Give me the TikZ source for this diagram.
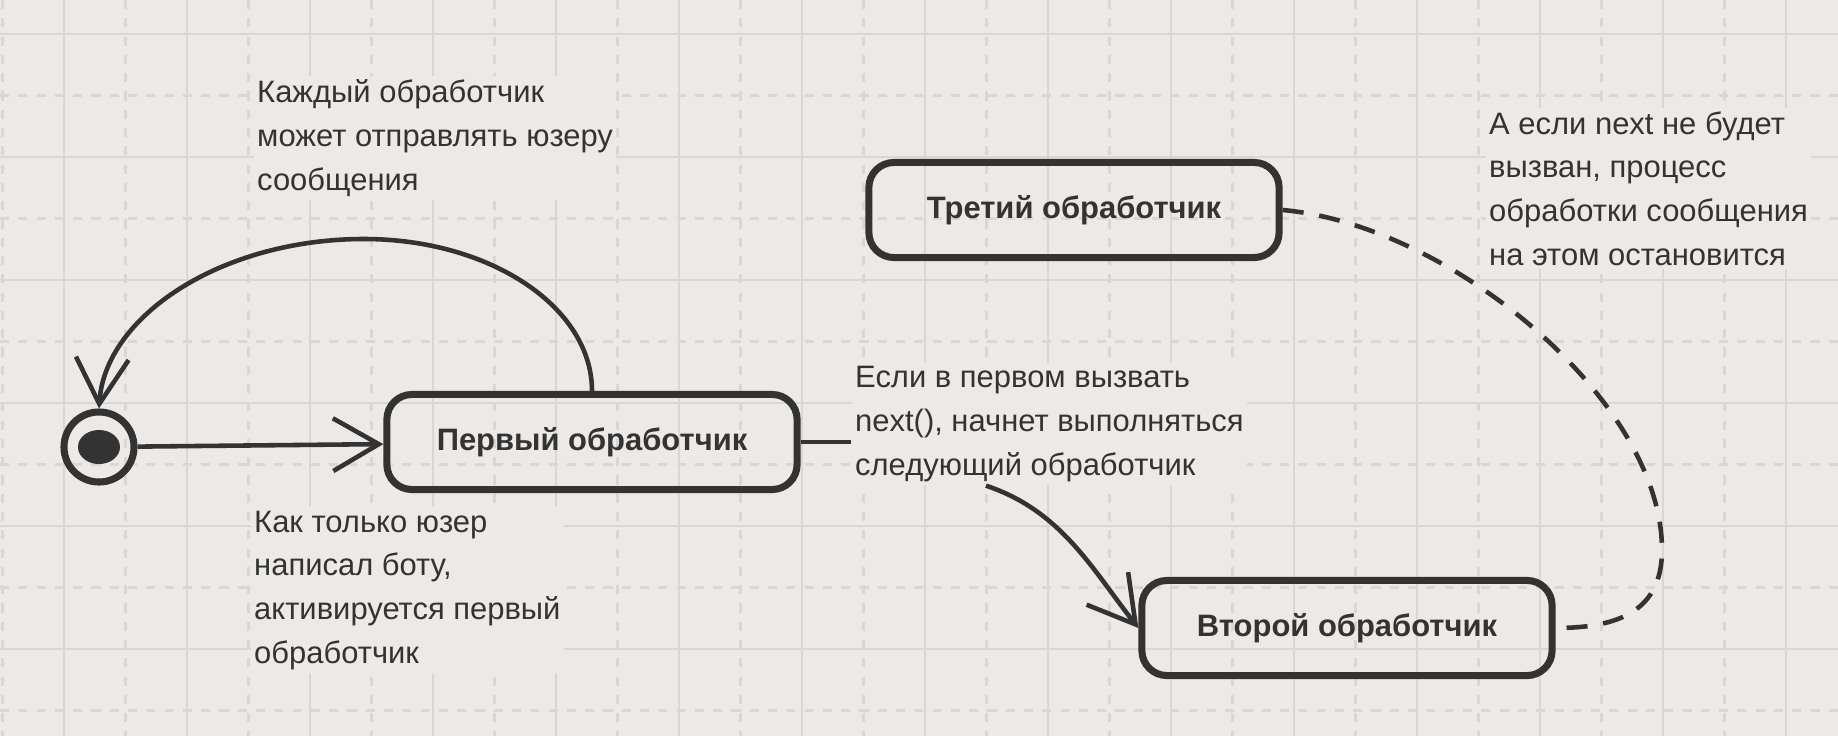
\documentclass[tikz,border=0pt]{standalone}
\usepackage{fontspec}
\setmainfont{Liberation Sans}
\usetikzlibrary{arrows.meta}
\usetikzlibrary{calc}
\definecolor{paper}{HTML}{ECE9E6}
\definecolor{gridline}{HTML}{D9D6D3}
\definecolor{ink}{HTML}{333333}
\tikzset{handler/.style={draw=ink, line width=2pt, rounded corners=0.25cm,
  minimum width=4.1cm, minimum height=0.95cm, text=ink,
  font=\fontsize{8.8}{10}\selectfont\bfseries}}
\tikzset{note/.style={fill=paper, inner sep=1pt, align=left, anchor=base west,
  text=ink, font=\fontsize{8.8}{12.4}\selectfont}}
\tikzset{trans/.style={draw=ink, line width=1.3pt, ->}}

\begin{document}
\begin{tikzpicture}[x=0.01cm, y=-0.01cm, >={Straight Barb[length=13pt,width=15pt]}]
  \useasboundingbox[fill=paper] (0,0) rectangle (1838,736);

  % grid
  \foreach \x in {64,187,...,1838} \draw[gridline, line width=0.6pt] (\x,0) -- (\x,736);
  \foreach \x in {2.5,125.5,...,1838} \draw[gridline, line width=0.6pt, dash pattern=on 2.6pt off 2.6pt] (\x,0) -- (\x,736);
  \foreach \y in {34,157,...,736} \draw[gridline, line width=0.6pt] (0,\y) -- (1838,\y);
  \foreach \y in {95.5,218.5,...,736} \draw[gridline, line width=0.6pt, dash pattern=on 2.6pt off 2.6pt] (0,\y) -- (1838,\y);

  % notes, placed by the baseline of their last line
  \node[note] (each) at (253,190) {Каждый обработчик\\может отправлять юзеру\\сообщения};
  \node[note] (start) at (250,663) {Как только юзер\\написал боту,\\активируется первый\\обработчик};
  \node[note] (next) at (851,475) {Если в первом вызвать\\next(), начнет выполняться\\следующий обработчик};
  \node[note] (stop) at (1485,265) {А если next не будет\\вызван, процесс\\обработки сообщения\\на этом остановится};

  \node[draw=ink, line width=2pt, circle, minimum size=0.7cm, inner sep=0] (init) at (99,447) {};
  \fill[ink] (init.center) ellipse [x radius=0.21cm, y radius=0.17cm];

  \node[handler] (first) at (592,442) {Первый обработчик};
  \node[handler] (third) at (1074,210) {Третий обработчик};
  \node[handler] (second) at (1347,628) {Второй обработчик};

  \draw[trans] (init) -- (first);
  \draw[trans] (first.north) .. controls +(0,-84) and +(126,0) .. (364,239)
    .. controls +(-143,0) and +(6,-92) .. (init.north);
  \draw[ink, line width=1.3pt] (first.east) -- (next.west |- first.east);
  \draw[trans] ($(next.south west)!0.34!(next.south east)$) .. controls +(75,25) and +(-47,-60) .. (second.west);
  \draw[ink, line width=1.3pt, dash pattern=on 6pt off 4.5pt] (third.east)
    .. controls (1450,225) and (1662,400) .. (1662,550)
    .. controls (1662,610) and (1620,628) .. (second.east);
\end{tikzpicture}
\end{document}
